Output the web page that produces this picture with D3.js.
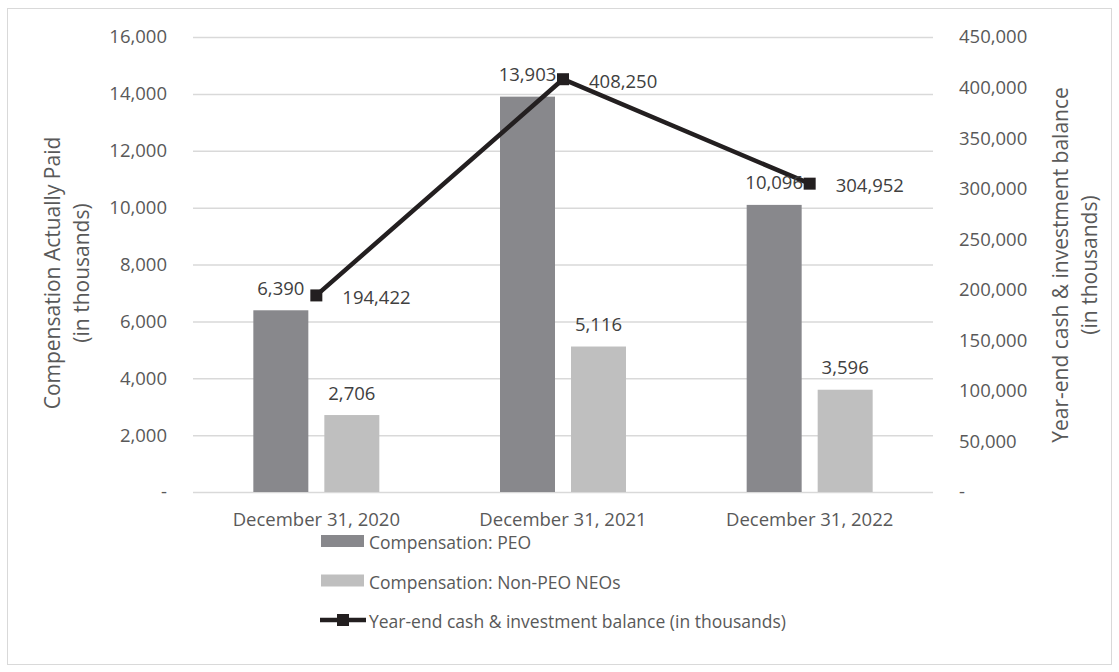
<!DOCTYPE html>
<html>
<head>
<meta charset="utf-8">
<script src="https://cdn.jsdelivr.net/npm/d3@7"></script>
<style>
  html, body { margin: 0; padding: 0; background: #fff; }
  svg { display: block; font-family: "Open Sans", sans-serif; }
</style>
</head>
<body>
<div id="chart"></div>
<script>
const categories = ['December 31, 2020', 'December 31, 2021', 'December 31, 2022'];
const peoValues = [6390, 13903, 10096];
const neoValues = [2706, 5116, 3596];
const cashValues = [194422, 408250, 304952];
const leftTicks = [0, 2000, 4000, 6000, 8000, 10000, 12000, 14000, 16000];
const rightTicks = [0, 50000, 100000, 150000, 200000, 250000, 300000, 350000, 400000, 450000];
const legendLabels = ['Compensation: PEO', 'Compensation: Non-PEO NEOs', 'Year-end cash & investment balance (in thousands)'];

const COLORS = { peo: '#88888c', neo: '#bfbfbf', line: '#231f20', grid: '#d9d9d9', tick: '#595959', label: '#404040' };
const FS_NUM = '18.5px', FS_CAT = '18.5px', FS_LEG = '17.5px', FS_TITLE = '21px';

const W = 1119, H = 672;
const margin = { top: 37, right: 186, bottom: 180, left: 193 };
const width = W - margin.left - margin.right;
const height = H - margin.top - margin.bottom;

const svg = d3.select('#chart').append('svg').attr('width', W).attr('height', H);

// outer frame
svg.append('rect')
    .attr('x', 7.5).attr('y', 8.5)
    .attr('width', W - 15).attr('height', H - 16)
    .attr('fill', 'none').attr('stroke', COLORS.grid);

const g = svg.append('g').attr('transform', `translate(${margin.left},${margin.top})`);

const x = d3.scaleBand().domain(categories).range([0, width]);
const yL = d3.scaleLinear().domain([0, 16000]).range([height, 0]);
const yR = d3.scaleLinear().domain([0, 450000]).range([height, 0]);

const fmt = d => d === 0 ? '-' : d3.format(',')(d);

// gridlines
g.append('g').selectAll('line').data(leftTicks).join('line')
    .attr('x1', 0).attr('x2', width)
    .attr('y1', d => yL(d) + 0.5).attr('y2', d => yL(d) + 0.5)
    .attr('stroke', COLORS.grid).attr('stroke-width', 1.5);

// axes
const leftAxis = g.append('g')
    .call(d3.axisLeft(yL).tickValues(leftTicks).tickFormat(fmt).tickSize(0).tickPadding(26));
const rightAxis = g.append('g').attr('transform', `translate(${width},0)`)
    .call(d3.axisRight(yR).tickValues(rightTicks).tickFormat(fmt).tickSize(0).tickPadding(26));
const bottomAxis = g.append('g').attr('transform', `translate(0,${height})`)
    .call(d3.axisBottom(x).tickSize(0).tickPadding(21));
[leftAxis, rightAxis].forEach(a => {
    a.select('.domain').remove();
    a.selectAll('text').attr('fill', COLORS.tick).style('font-size', FS_NUM).style('font-family', '"Open Sans", sans-serif');
});
bottomAxis.select('.domain').remove();
bottomAxis.selectAll('text').attr('fill', COLORS.tick).style('font-size', FS_CAT).style('font-family', '"Open Sans", sans-serif');

// bars
const barW = 55, off = 35.5;
const series = [
    { values: peoValues, color: COLORS.peo, dx: -off },
    { values: neoValues, color: COLORS.neo, dx: off }
];
series.forEach(s => {
    g.append('g').selectAll('rect').data(categories).join('rect')
        .attr('x', (d) => x(d) + x.bandwidth() / 2 + s.dx - barW / 2)
        .attr('y', (d, i) => yL(s.values[i]))
        .attr('width', barW)
        .attr('height', (d, i) => height - yL(s.values[i]))
        .attr('fill', s.color);
});

// line
const line = d3.line()
    .x((d, i) => x(categories[i]) + x.bandwidth() / 2)
    .y(d => yR(d));
g.append('path').datum(cashValues)
    .attr('d', line).attr('fill', 'none')
    .attr('stroke', COLORS.line).attr('stroke-width', 4.5);
g.append('g').selectAll('rect').data(cashValues).join('rect')
    .attr('x', (d, i) => x(categories[i]) + x.bandwidth() / 2 - 6)
    .attr('y', d => yR(d) - 6)
    .attr('width', 12).attr('height', 12)
    .attr('fill', COLORS.line);

// bar labels
series.forEach(s => {
    g.append('g').selectAll('text').data(categories).join('text')
        .attr('x', d => x(d) + x.bandwidth() / 2 + s.dx)
        .attr('y', (d, i) => yL(s.values[i]) - 23)
        .attr('text-anchor', 'middle').attr('dominant-baseline', 'central')
        .attr('fill', COLORS.label).style('font-size', FS_NUM)
        .text((d, i) => fmt(s.values[i]));
});

// line labels
g.append('g').selectAll('text').data(cashValues).join('text')
    .attr('x', (d, i) => x(categories[i]) + x.bandwidth() / 2 + 26)
    .attr('y', d => yR(d) + 1)
    .attr('dominant-baseline', 'central')
    .attr('fill', COLORS.label).style('font-size', FS_NUM)
    .text(d => fmt(d));

// axis titles
const leftTitle = svg.append('text')
    .attr('transform', `translate(67,273) rotate(-90)`)
    .attr('text-anchor', 'middle').attr('fill', COLORS.tick).style('font-size', FS_TITLE);
leftTitle.append('tspan').attr('x', 0).attr('dy', -7).text('Compensation Actually Paid');
leftTitle.append('tspan').attr('x', 0).attr('dy', 29).text('(in thousands)');

const rightTitle = svg.append('text')
    .attr('transform', `translate(1075,265) rotate(-90)`)
    .attr('text-anchor', 'middle').attr('fill', COLORS.tick).style('font-size', FS_TITLE);
rightTitle.append('tspan').attr('x', 0).attr('dy', -7).text('Year-end cash & investment balance');
rightTitle.append('tspan').attr('x', 0).attr('dy', 29).text('(in thousands)');

// legend
const legend = svg.append('g').attr('transform', 'translate(320,541)');
legendLabels.forEach((lbl, i) => {
    const row = legend.append('g').attr('transform', `translate(0,${i * 39.5})`);
    if (i < 2) {
        row.append('rect').attr('x', 1).attr('y', -6).attr('width', 43).attr('height', 12)
            .attr('fill', i === 0 ? COLORS.peo : COLORS.neo);
    } else {
        row.append('line').attr('x1', 0).attr('x2', 46).attr('y1', 0).attr('y2', 0)
            .attr('stroke', COLORS.line).attr('stroke-width', 4.5);
        row.append('rect').attr('x', 17).attr('y', -6).attr('width', 12).attr('height', 12)
            .attr('fill', COLORS.line);
    }
    row.append('text').attr('x', 49).attr('y', 1).attr('dominant-baseline', 'central')
        .attr('fill', COLORS.tick).style('font-size', FS_LEG).text(lbl);
});
</script>
</body>
</html>
